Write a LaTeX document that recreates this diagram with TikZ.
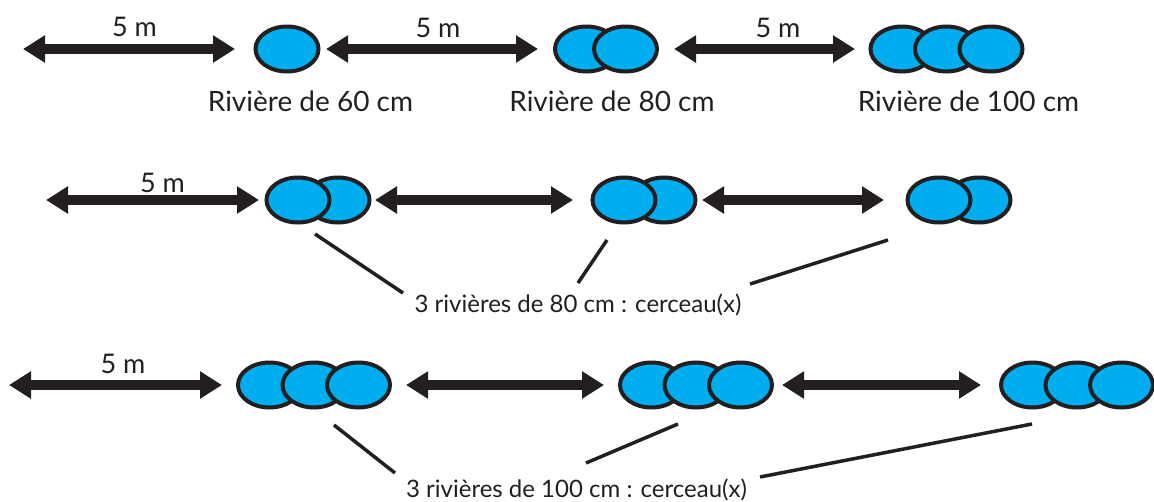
\documentclass[tikz,border=0pt]{standalone}
\usepackage{fontspec}
\setmainfont{Lato}
\usetikzlibrary{arrows.meta,shapes.geometric}
\definecolor{ink}{HTML}{231F20}
\definecolor{hoopblue}{HTML}{00AEEF}
\tikzset{
  hoop/.style={ellipse, draw=ink, fill=hoopblue, line width=4pt,
    minimum width=63pt, minimum height=45pt, inner sep=0pt},
  dimarrow/.style={draw=ink, line width=9.5pt,
    arrows={Triangle[length=22pt,width=26pt]-Triangle[length=22pt,width=26pt]}},
  leader/.style={draw=ink, line width=3.5pt},
  caption/.style={text=ink, font=\fontsize{28}{32}\selectfont, anchor=base, inner sep=0pt},
  dimlabel/.style={text=ink, font=\fontsize{27}{31}\selectfont, anchor=base, inner sep=0pt},
  note/.style={text=ink, font=\fontsize{24}{28}\selectfont, anchor=base, inner sep=0pt},
}
\begin{document}
\begin{tikzpicture}[x=1pt,y=-1pt]
\useasboundingbox (0,0) rectangle (1154,501);

% ---------- row 1: one river of each width ----------
\node[hoop] (r60) at (287,49) {};
\node[hoop] (r80a) at (586.5,49) {};
\node[hoop] (r80b) at (625.5,49) {};
\node[hoop] (r100a) at (902,49) {};
\node[hoop] (r100b) at (946.5,49) {};
\node[hoop] (r100c) at (991,49) {};

\coordinate (a1L) at (23,49);
\draw[dimarrow, shorten >=18.5pt] (a1L) -- (r60.west);
\draw[dimarrow, shorten <=5.5pt, shorten >=15pt] (r60.east) -- (r80a.west);
\draw[dimarrow, shorten <=15pt, shorten >=13.5pt] (r80b.east) -- (r100a.west);

\node[dimlabel] (d11) at (134.5,36) {5 m};
\node[dimlabel] (d12) at (438,37) {5 m};
\node[dimlabel] (d13) at (778,37) {5 m};

\node[caption] (c60) at (310.5,111) {Rivière de 60 cm};
\node[caption] (c80) at (612,111) {Rivière de 80 cm};
\node[caption] (c100) at (968.5,111) {Rivière de 100 cm};

% ---------- row 2: three rivers of 80 cm ----------
\node[hoop] (s1b) at (338,200) {};
\node[hoop] (s1a) at (298,200) {};
\node[hoop] (s2b) at (664,200) {};
\node[hoop] (s2a) at (624,200) {};
\node[hoop] (s3b) at (979,200) {};
\node[hoop] (s3a) at (939,200) {};

\coordinate (b1L) at (46,200);
\draw[dimarrow, shorten >=5.5pt] (b1L) -- (s1a.west);
\draw[dimarrow, shorten <=3.5pt, shorten >=17.5pt] (s1b.east) -- (s2a.west);
\draw[dimarrow, shorten <=4.5pt, shorten >=21.5pt] (s2b.east) -- (s3a.west);

\node[dimlabel] (d21) at (162.5,192) {5 m};

\node[note] (n80) at (578,312) {3 rivières de 80 cm : cerceau(x)};
\coordinate (n80a) at (403,293);
\coordinate (n80b) at (578,283);
\coordinate (n80c) at (750,284);
\draw[leader] ([shift={(17,9.5)}]s1a.south) -- (n80a);
\draw[leader] ([shift={(-17,15.5)}]s2a.south) -- (n80b);
\draw[leader] ([shift={(-51,15.5)}]s3a.south) -- (n80c);

% ---------- row 3: three rivers of 100 cm ----------
\node[hoop] (t1a) at (269.5,385) {};
\node[hoop] (t1b) at (314,385) {};
\node[hoop] (t1c) at (358.5,385) {};
\node[hoop] (t2a) at (651.5,385) {};
\node[hoop] (t2b) at (696,385) {};
\node[hoop] (t2c) at (740.5,385) {};
\node[hoop] (t3a) at (1032.5,385) {};
\node[hoop] (t3b) at (1077,385) {};
\node[hoop] (t3c) at (1121.5,385) {};

\coordinate (c1L) at (9,385);
\draw[dimarrow, shorten >=14pt] (c1L) -- (t1a.west);
\draw[dimarrow, shorten <=14pt, shorten >=14pt] (t1c.east) -- (t2a.west);
\draw[dimarrow, shorten <=8pt, shorten >=18pt] (t2c.east) -- (t3a.west);

\node[dimlabel] (d31) at (123,373) {5 m};

\node[note] (n100) at (576.5,497) {3 rivières de 100 cm : cerceau(x)};
\coordinate (n100a) at (395,473);
\coordinate (n100b) at (586,463);
\coordinate (n100c) at (760,477);
\draw[leader] ([shift={(20,15.5)}]t1b.south) -- (n100a);
\draw[leader] ([shift={(-18,14.5)}]t2b.south) -- (n100b);
\draw[leader] ([shift={(-0.5,14.5)}]t3a.south) -- (n100c);
\end{tikzpicture}
\end{document}
